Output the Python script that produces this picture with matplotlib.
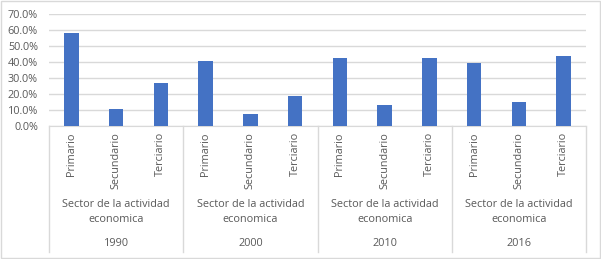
import matplotlib
matplotlib.use("Agg")
import matplotlib.pyplot as plt
import matplotlib.transforms as mtransforms
from matplotlib.patches import Rectangle
from matplotlib.lines import Line2D

years = ["1990", "2000", "2010", "2016"]
sectors = ["Primario", "Secundario", "Terciario"]
group_label = "Sector de la actividad\neconomica"
vals_1990 = [0.581, 0.106, 0.269]
vals_2000 = [0.406, 0.075, 0.188]
vals_2010 = [0.425, 0.131, 0.425]
vals_2016 = [0.394, 0.150, 0.4375]

W, H = 601, 259
fig = plt.figure(figsize=(W / 100, H / 100), dpi=100)
plt.rcParams['font.family'] = ['Open Sans', 'DejaVu Sans']
txt_col = "#595959"
grid_col = "#d9d9d9"
fs = 7.8

def fy(ypix):
    return 1 - ypix / H

# plot area: x 49..586, zero line at y=126, 70% at y=14.3
ax = fig.add_axes([49 / W, fy(126), 537 / W, (126 - 14.3) / H])

values = vals_1990 + vals_2000 + vals_2010 + vals_2016
xs = list(range(len(values)))
ax.bar(xs, values, width=0.32, color="#4472c4", zorder=3)

ax.set_xlim(-0.5, len(values) - 0.5)
ax.set_ylim(0, 0.7)
ax.set_yticks([i / 10 for i in range(8)])
ax.set_yticklabels([f"{i * 10:.1f}%" for i in range(8)], color=txt_col, fontsize=fs)
ax.tick_params(axis="y", length=0, pad=8)
ax.tick_params(axis="x", length=0)
ax.set_xticks([])
ax.grid(axis="y", color=grid_col, linewidth=1, zorder=0)
for s in ["top", "right", "left"]:
    ax.spines[s].set_visible(False)
ax.spines["bottom"].set_color(grid_col)

tr = mtransforms.blended_transform_factory(ax.transData, fig.transFigure)

# category labels
for i, x in enumerate(xs):
    ax.text(x, fy(132), sectors[i % 3], rotation=90, ha="center", va="top",
            fontsize=fs, color=txt_col, transform=tr)

# group labels and separators
for g, yr in enumerate(years):
    cx = g * 3 + 1
    ax.text(cx, fy(212), group_label, ha="center", va="center", fontsize=fs,
            color=txt_col, transform=tr, linespacing=1.45)
    ax.text(cx, fy(243), yr, ha="center", va="center", fontsize=fs,
            color=txt_col, transform=tr)
for g in range(len(years) + 1):
    sx = g * 3 - 0.5
    fig.add_artist(Line2D([sx, sx], [fy(126), fy(252)], transform=tr,
                          color=grid_col, linewidth=1))

# chart border
fig.add_artist(Rectangle((1 / W, fy(257.5)), 599 / W, (257.5 - 0.5) / H,
                         transform=fig.transFigure, fill=False,
                         edgecolor=grid_col, linewidth=1))

fig.savefig("out.png", dpi=100)
